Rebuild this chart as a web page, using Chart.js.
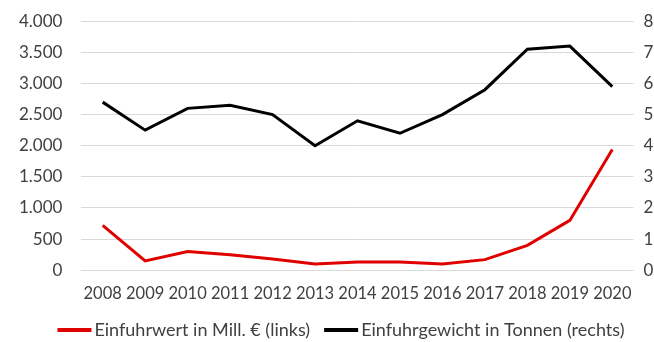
<!DOCTYPE html>
<html>
<head>
<meta charset="utf-8">
<script src="https://cdn.jsdelivr.net/npm/chart.js@4/dist/chart.umd.min.js"></script>
<style>
  html, body { margin: 0; padding: 0; background: #fff; overflow: hidden; }
  #wrap { width: 697px; height: 350px; margin-top: -8px; }
</style>
</head>
<body>
<div id="wrap"><canvas id="chart"></canvas></div>
<script>
var years = ['2008', '2009', '2010', '2011', '2012', '2013', '2014', '2015', '2016', '2017', '2018', '2019', '2020'];
// Einfuhrwert in Mill. € (left axis)
var einfuhrwert = [720, 150, 300, 250, 180, 100, 130, 130, 100, 170, 400, 800, 1940];
// Einfuhrgewicht in Tonnen (right axis)
var einfuhrgewicht = [5400, 4500, 5200, 5300, 5000, 4000, 4800, 4400, 5000, 5800, 7100, 7200, 5900];

var textColor = '#404040';
var font = { family: 'Lato', size: 17 };

// legend drawn under the x labels: short line, then the label right next to it
var bottomLegend = {
  id: 'bottomLegend',
  afterDraw: function(chart) {
    var c = chart.ctx;
    var y = chart.scales.x.bottom + 12;
    var x = chart.chartArea.left - 24;
    c.save();
    c.font = '18px Lato';
    c.textBaseline = 'middle';
    c.textAlign = 'left';
    chart.data.datasets.forEach(function(ds) {
      c.fillStyle = ds.borderColor;
      c.fillRect(x, y - 2, 34, 4);
      x += 37;
      c.fillStyle = textColor;
      c.fillText(ds.label, x, y);
      x += c.measureText(ds.label).width + 14;
    });
    c.restore();
  }
};

var ctx = document.getElementById('chart').getContext('2d');
window.chart = new Chart(ctx, {
  type: 'line',
  data: {
    labels: years,
    datasets: [{
      label: 'Einfuhrwert in Mill. € (links)',
      data: einfuhrwert,
      yAxisID: 'y',
      borderColor: '#e00000',
      backgroundColor: '#e00000',
      borderWidth: 3,
      pointRadius: 0,
      tension: 0
    }, {
      label: 'Einfuhrgewicht in Tonnen (rechts)',
      data: einfuhrgewicht,
      yAxisID: 'y1',
      borderColor: '#000000',
      backgroundColor: '#000000',
      borderWidth: 3,
      pointRadius: 0,
      tension: 0
    }]
  },
  options: {
    responsive: true,
    maintainAspectRatio: false,
    animation: false,
    locale: 'de-DE',
    layout: { padding: { top: 0, left: 0, right: 0, bottom: 24 } },
    plugins: {
      tooltip: { enabled: false },
      legend: { display: false }
    },
    scales: {
      x: {
        offset: true,
        grid: { display: false, drawTicks: false },
        border: { display: false },
        ticks: { color: textColor, font: { family: 'Lato', size: 16.5 }, padding: 14, maxRotation: 0, autoSkip: false }
      },
      y: {
        position: 'left',
        min: 0,
        max: 4000,
        ticks: { stepSize: 500, color: textColor, font: font, padding: 19 },
        grid: { color: '#d9d9d9', drawTicks: false },
        border: { display: false }
      },
      y1: {
        position: 'right',
        min: 0,
        max: 8000,
        ticks: { stepSize: 1000, color: textColor, font: font, padding: 10 },
        grid: { display: false, drawTicks: false },
        border: { display: false }
      }
    }
  },
  plugins: [bottomLegend]
});
</script>
</body>
</html>
